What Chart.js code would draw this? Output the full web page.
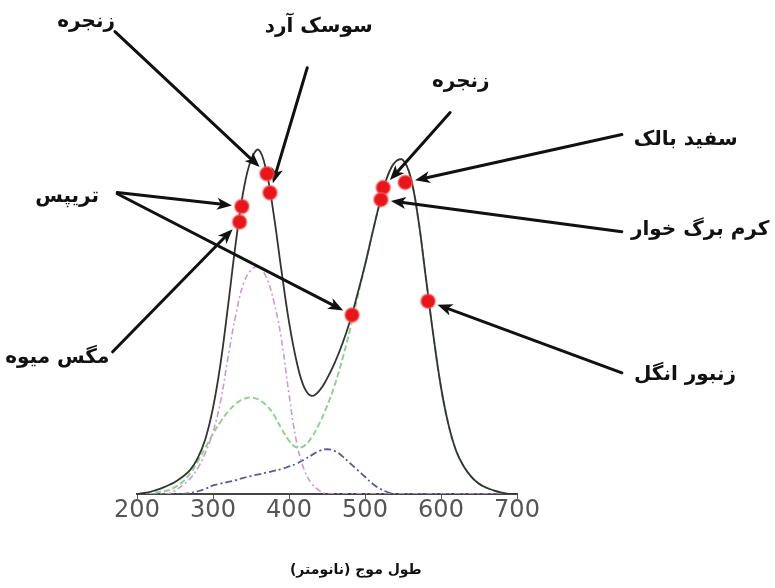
<!DOCTYPE html>
<html lang="fa">
<head>
<meta charset="UTF-8" />
<title>طول موج (نانومتر)</title>
<script src="https://cdn.jsdelivr.net/npm/chart.js"></script>
<style>
  body { margin: 0; background: #fff; }
  canvas { display: block; }
</style>
</head>
<body>
<canvas id="chart" width="775" height="588" dir="rtl"></canvas>
<script>
// wavelength grid (nm) and the four curves
const wavelengths = [200,210,220,230,240,250,260,270,280,290,300,310,320,330,340,350,360,370,380,390,400,410,420,430,440,450,460,470,480,490,500,510,520,530,540,550,560,570,580,590,600,610,620,630,640,650,660,670,680,690,700];

const total = [0,0.003,0.008,0.015,0.024,0.035,0.05,0.07,0.105,0.16,0.25,0.38,0.55,0.73,0.88,0.97,1.0,0.94,0.81,0.65,0.50,0.385,0.31,0.285,0.30,0.335,0.38,0.435,0.50,0.58,0.665,0.76,0.85,0.925,0.965,0.97,0.92,0.80,0.63,0.46,0.31,0.20,0.125,0.08,0.05,0.03,0.018,0.01,0.004,0,0];

const uvCurve = [0,0,0,0,0,0.01,0.025,0.045,0.075,0.12,0.18,0.27,0.40,0.52,0.61,0.65,0.66,0.63,0.56,0.45,0.29,0.15,0.07,0.03,0.01,0,0,0,0,0,0,0,0,0,0,0,0,0,0,0,0,0,0,0,0,0,0,0,0,0,0];

const greenCurve = [0,0,0.003,0.006,0.01,0.02,0.035,0.06,0.095,0.135,0.175,0.21,0.24,0.262,0.276,0.28,0.274,0.258,0.23,0.19,0.155,0.135,0.14,0.165,0.205,0.255,0.315,0.39,0.475,0.57,0.665,0.76,0.85,0.925,0.965,0.97,0.92,0.80,0.63,0.46,0.31,0.20,0.125,0.08,0.05,0.03,0.018,0.01,0.004,0,0];

const blueCurve = [0,0,0,0,0,0,0,0.003,0.008,0.015,0.025,0.03,0.035,0.04,0.047,0.052,0.057,0.062,0.067,0.072,0.08,0.088,0.10,0.113,0.125,0.13,0.125,0.11,0.09,0.07,0.05,0.03,0.015,0.005,0,0,0,0,0,0,0,0,0,0,0,0,0,0,0,0,0];

// insect sensitivity points
const dotNm  = [371, 375, 338, 335, 483, 524, 521, 553, 583];
const dotVal = [0.93, 0.875, 0.835, 0.79, 0.52, 0.89, 0.855, 0.905, 0.56];

const xTicks = [200, 300, 400, 500, 600, 700];
const xTitle = 'طول موج (نانومتر)';

// labels and arrows (anchor points in axis units)
const callouts = [
  { text: 'زنجره', at: [133, 1.372], arrows: [{ from: [171, 1.343], dot: 0 }] },
  { text: 'سوسک آرد', at: [439, 1.358], arrows: [{ from: [424, 1.238], dot: 1 }] },
  { text: 'تریپس', at: [108, 0.863], arrows: [{ from: [174, 0.876], dot: 2 }, { from: [174, 0.872], dot: 4 }] },
  { text: 'مگس میوه', at: [95, 0.395], arrows: [{ from: [168, 0.413], dot: 3 }] },
  { text: 'زنجره', at: [626, 1.198], arrows: [{ from: [612, 1.108], dot: 5 }] },
  { text: 'سفید بالک', at: [922, 1.029], arrows: [{ from: [838, 1.044], dot: 7 }] },
  { text: 'کرم برگ خوار', at: [941, 0.767], arrows: [{ from: [838, 0.762], dot: 6 }] },
  { text: 'زنبور انگل', at: [921, 0.346], arrows: [{ from: [838, 0.352], dot: 8 }] }
];

function pts(values) {
  return wavelengths.map((w, i) => ({ x: w, y: values[i] }));
}

const calloutPlugin = {
  id: 'callouts',
  afterDatasetDraw(chart, args) {
    if (args.index !== 1) return; // after the black curve, before the dots
    const { ctx, scales: { x, y } } = chart;
    ctx.save();
    ctx.strokeStyle = '#111';
    ctx.fillStyle = '#111';
    ctx.lineWidth = 3;
    ctx.lineCap = 'round';
    callouts.forEach(c => {
      c.arrows.forEach(a => {
        const x0 = x.getPixelForValue(a.from[0]);
        const y0 = y.getPixelForValue(a.from[1]);
        const dx = x.getPixelForValue(dotNm[a.dot]);
        const dy = y.getPixelForValue(dotVal[a.dot]);
        const ang = Math.atan2(dy - y0, dx - x0);
        const cos = Math.cos(ang), sin = Math.sin(ang);
        const tx = dx - cos * 10, ty = dy - sin * 10;
        const head = 15, half = 6;
        ctx.beginPath();
        ctx.moveTo(x0, y0);
        ctx.lineTo(tx - cos * (head - 3), ty - sin * (head - 3));
        ctx.stroke();
        ctx.beginPath();
        ctx.moveTo(tx, ty);
        ctx.lineTo(tx - cos * head - sin * half, ty - sin * head + cos * half);
        ctx.lineTo(tx - cos * (head - 4), ty - sin * (head - 4));
        ctx.lineTo(tx - cos * head + sin * half, ty - sin * head - cos * half);
        ctx.closePath();
        ctx.fill();
      });
    });
    ctx.restore();
  },
  afterDraw(chart) {
    const { ctx, scales: { x, y } } = chart;
    ctx.save();
    ctx.direction = 'rtl';
    ctx.fillStyle = '#111';
    ctx.textAlign = 'center';
    ctx.textBaseline = 'middle';
    ctx.font = 'bold 20px "DejaVu Sans"';
    callouts.forEach(c => {
      ctx.fillText(c.text, x.getPixelForValue(c.at[0]), y.getPixelForValue(c.at[1]));
    });
    // axis title sits a little right of the axis centre in the original
    ctx.font = 'bold 14px "DejaVu Sans"';
    ctx.fillText(xTitle, x.getPixelForValue(488), y.bottom + 76);
    ctx.restore();
  }
};

const curveStyle = { pointRadius: 0, tension: 0.4 };

new Chart(document.getElementById('chart').getContext('2d'), {
  type: 'line',
  data: {
    datasets: [
      {
        label: 'dots',
        data: dotNm.map((w, i) => ({ x: w, y: dotVal[i] })),
        showLine: false,
        pointRadius: 7,
        pointBackgroundColor: '#e8151b',
        pointBorderColor: 'rgba(255,90,90,0.55)',
        pointBorderWidth: 2,
        order: 0
      },
      {
        label: 'total',
        data: pts(total),
        borderColor: '#333',
        borderWidth: 1.8,
        ...curveStyle,
        order: 1
      },
      {
        label: 'uv',
        data: pts(uvCurve),
        borderColor: '#c99ad4',
        borderWidth: 1.6,
        borderDash: [6, 3, 2, 3],
        ...curveStyle,
        order: 2
      },
      {
        label: 'blue',
        data: pts(blueCurve),
        borderColor: '#5b5b9c',
        borderWidth: 1.8,
        borderDash: [7, 3, 2, 3],
        ...curveStyle,
        order: 3
      },
      {
        label: 'green',
        data: pts(greenCurve),
        borderColor: '#8fd38f',
        borderWidth: 2,
        borderDash: [6, 3],
        ...curveStyle,
        order: 4
      }
    ]
  },
  options: {
    responsive: false,
    animation: false,
    layout: { padding: { left: 137, right: 258, top: 12, bottom: 0 } },
    plugins: {
      legend: { display: false },
      tooltip: { enabled: false }
    },
    scales: {
      x: {
        type: 'linear',
        min: 200,
        max: 700,
        afterFit: scale => { scale.height = 94; },
        afterBuildTicks: scale => { scale.ticks = xTicks.map(v => ({ value: v })); },
        grid: { drawOnChartArea: false, drawTicks: true, tickLength: 5, color: '#555' },
        border: { display: true, color: '#444', width: 2 },
        ticks: {
          color: '#555',
          padding: -3,
          font: { family: 'DejaVu Sans', size: 24 }
        }
      },
      y: { display: false, min: 0, max: 1.4 }
    }
  },
  plugins: [calloutPlugin]
});
</script>
</body>
</html>
